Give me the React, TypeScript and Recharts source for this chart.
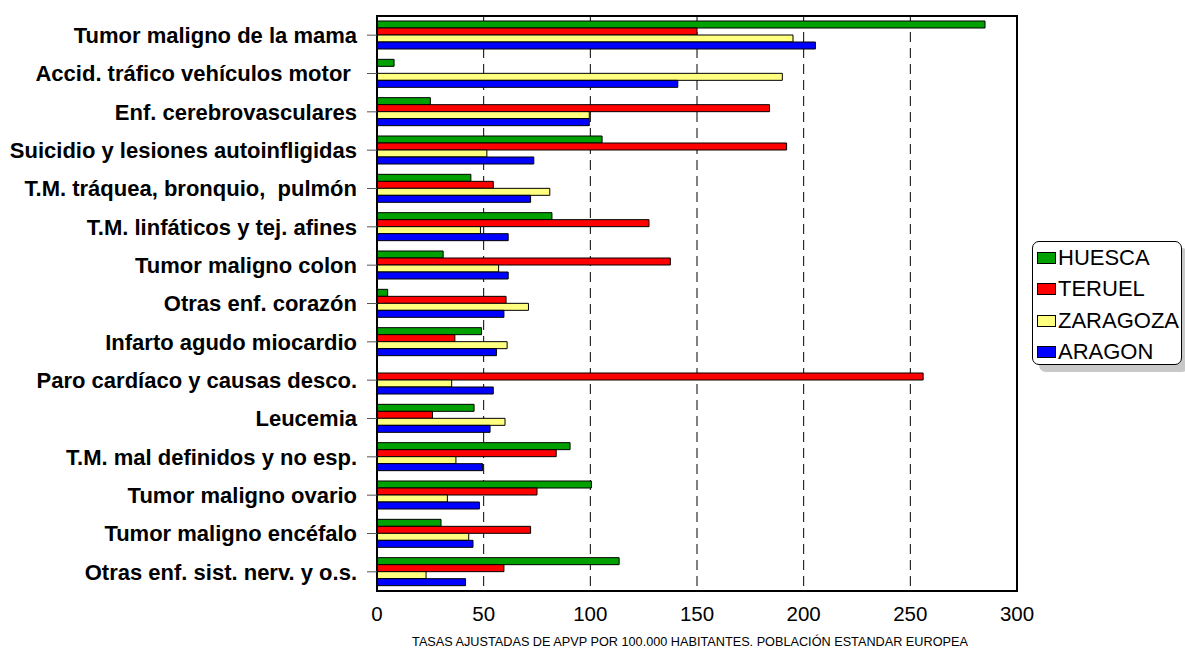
import { BarChart, Bar, XAxis, YAxis, CartesianGrid, ReferenceArea, Legend } from "recharts"

const FONT = "Arial, 'Liberation Sans', sans-serif"

// causes, top to bottom
const categories = [
  "Tumor maligno de la mama",
  "Accid. tráfico vehículos motor ",
  "Enf. cerebrovasculares",
  "Suicidio y lesiones autoinfligidas",
  "T.M. tráquea, bronquio,  pulmón",
  "T.M. linfáticos y tej. afines",
  "Tumor maligno colon",
  "Otras enf. corazón",
  "Infarto agudo miocardio",
  "Paro cardíaco y causas desco.",
  "Leucemia",
  "T.M. mal definidos y no esp.",
  "Tumor maligno ovario",
  "Tumor maligno encéfalo",
  "Otras enf. sist. nerv. y o.s.",
]

const huesca = [285, 8, 25, 105.5, 44, 82, 31, 5, 49, 0, 45.5, 90.5, 100.5, 30, 113.5]
const teruel = [150, 0, 184, 192, 54.5, 127.5, 137.5, 60.5, 36.5, 256, 26, 84, 75, 72, 59.5]
const zaragoza = [195, 190, 99.5, 51.5, 81, 48.5, 57, 71, 61, 35, 60, 37, 33, 43, 23]
const aragon = [205.5, 141, 99.5, 73.5, 72, 61.5, 61.5, 59.5, 56, 54.5, 53, 49.5, 48, 45, 41.5]

const xTicks = [0, 50, 100, 150, 200, 250, 300]

const series = [
  { key: "HUESCA", color: "#00a000" },
  { key: "TERUEL", color: "#ff0000" },
  { key: "ZARAGOZA", color: "#ffff80" },
  { key: "ARAGON", color: "#0000ff" },
]

const data = categories.map((name, i) => ({
  name,
  HUESCA: huesca[i],
  TERUEL: teruel[i],
  ZARAGOZA: zaragoza[i],
  ARAGON: aragon[i],
}))

// eslint-disable-next-line
const CauseTick = ({ x, y, payload }: any) => (
  <text
    x={x}
    y={y}
    dy="0.36em"
    textAnchor="end"
    fontFamily={FONT}
    fontSize={22}
    fontWeight="bold"
    fill="#000"
    style={{ whiteSpace: "pre" }}
  >
    {payload.value}
  </text>
)

const LegendBox = () => (
  <div
    style={{
      width: 150,
      height: 124,
      border: "1px solid #000",
      borderRadius: 7,
      background: "#fff",
      boxShadow: "7px 7px 0 #c8c8c8",
      fontFamily: FONT,
      fontSize: 22,
      color: "#000",
      paddingTop: 0,
      boxSizing: "border-box",
    }}
  >
    {series.map((s) => (
      <div key={s.key} style={{ display: "flex", alignItems: "center", height: 31.5, paddingLeft: 4 }}>
        <span
          style={{
            display: "inline-block",
            width: 17,
            height: 10,
            background: s.color,
            border: "1px solid #000",
            marginRight: 2,
          }}
        />
        <span style={{ lineHeight: "22px" }}>{s.key}</span>
      </div>
    ))}
  </div>
)

export default function App() {
  return (
    <div style={{ position: "absolute", left: 0, top: 0, background: "#fff" }}>
      <BarChart
        width={1185}
        height={648}
        data={data}
        layout="vertical"
        margin={{ top: 16, right: 168, bottom: 17, left: 0 }}
        barCategoryGap={5}
        barGap={0}
      >
        <CartesianGrid horizontal={false} stroke="#000" strokeDasharray="10 6" />
        <XAxis
          type="number"
          domain={[0, 300]}
          ticks={xTicks}
          height={40}
          tickLine={false}
          tickSize={0}
          tickMargin={15}
          axisLine={{ stroke: "#000", strokeWidth: 2 }}
          tick={{ fontFamily: FONT, fontSize: 20.5, fill: "#000" }}
          label={{
            content: () => (
              <text x={690} y={646} textAnchor="middle" fontFamily={FONT} fontSize={12.7} fill="#000">
                TASAS AJUSTADAS DE APVP POR 100.000 HABITANTES. POBLACIÓN ESTANDAR EUROPEA
              </text>
            ),
          }}
        />
        <YAxis
          type="category"
          dataKey="name"
          width={377}
          interval={0}
          tickSize={10}
          tickMargin={10}
          tickLine={{ stroke: "#555" }}
          axisLine={{ stroke: "#000", strokeWidth: 2 }}
          tick={<CauseTick />}
        />
        <ReferenceArea x1={0} x2={300} fill="none" fillOpacity={0} stroke="#000" strokeWidth={2} />
        {series.map((s) => (
          <Bar
            key={s.key}
            dataKey={s.key}
            fill={s.color}
            stroke="#000"
            strokeWidth={1}
            isAnimationActive={false}
          />
        ))}
        <Legend
          layout="horizontal"
          verticalAlign="middle"
          align="center"
          wrapperStyle={{ left: 1032, top: 241, width: 152, height: 126 }}
          content={<LegendBox />}
        />
      </BarChart>
    </div>
  )
}
